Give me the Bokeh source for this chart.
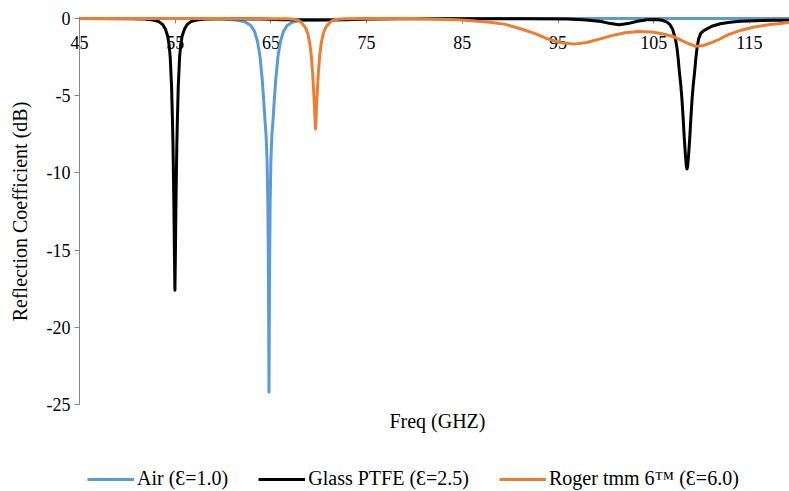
from bokeh.plotting import figure
from bokeh.models import ColumnDataSource, Range1d, FixedTicker, Legend, LegendItem, Label
from bokeh.embed import file_html
from bokeh.resources import INLINE

# ---------------- data ----------------
x_ticks = [45, 55, 65, 75, 85, 95, 105, 115]
y_ticks = [0, -5, -10, -15, -20, -25]
y_tick_labels = ["0", "-5", "-10", "-15", "-20", "-25"]
x_title = "Freq (GHZ)"
y_title = "Reflection Coefficient (dB)"

series_names = ["Air (\u0190=1.0)", "Glass PTFE (\u0190=2.5)", "Roger tmm 6\u2122 (\u0190=6.0)"]
series_colors = ["#5B9BD5", "#000000", "#ED7D31"]

air_freq = [45, 55, 58, 59.8, 61.3, 62.3, 62.9, 63.3, 63.6, 63.85, 64.1, 64.28, 64.36, 64.5,
            64.6, 64.68, 64.74, 64.78, 64.8, 64.82, 64.86, 64.92, 65.0, 65.1, 65.24, 65.32,
            65.5, 65.75, 66.0, 66.3, 66.7, 67.3, 68.3, 70.8, 73.8, 76, 80, 119.2]
air_db = [0, 0, -0.01, -0.03, -0.1, -0.22, -0.45, -0.85, -1.5, -2.4, -4.0, -5.6, -6.4, -7.6,
          -9.2, -12, -16.5, -21.5, -24.2, -21.5, -16.5, -12, -9.2, -7.6, -6.4, -5.6,
          -4.0, -2.4, -1.5, -0.85, -0.45, -0.22, -0.12, -0.08, -0.05, -0.01, 0, 0]

glass_freq = [45, 50.5, 51.8, 52.7, 53.3, 53.7, 53.97, 54.22, 54.37, 54.48, 54.62, 54.71, 54.77,
              54.82, 54.87, 54.92, 54.97, 55.02, 55.07, 55.12, 55.17, 55.23, 55.32, 55.46,
              55.57, 55.72, 55.97, 56.24, 56.64, 57.24, 58.14, 59.5, 61, 64, 66, 70, 73, 75,
              78, 85, 92, 96, 98, 99.5, 100.5, 101.4, 102.3, 103.3, 104.3, 105.2, 105.9,
              106.4, 106.7, 106.98, 107.26, 107.43, 107.56, 107.69, 107.83, 107.96, 108.08,
              108.2, 108.32, 108.42, 108.48, 108.54, 108.64, 108.76, 108.88, 109.0, 109.13,
              109.27, 109.4, 109.53, 109.7, 109.93, 110.23, 110.57, 111.08, 111.96, 112.98,
              114.05, 115.5, 117.5, 119.2]
glass_db = [0, -0.01, -0.04, -0.1, -0.2, -0.4, -0.68, -1.15, -1.75, -2.5, -4.4, -6.5, -8.2,
            -10.2, -12.5, -15.3, -17.6, -15.3, -12.5, -10.2, -8.2, -6.5, -4.4, -2.5,
            -1.75, -1.15, -0.68, -0.4, -0.2, -0.1, -0.04, -0.01, -0.01, -0.04, -0.08, -0.1, -0.08, -0.03,
            -0.01, -0.01, -0.02, -0.04, -0.1, -0.2, -0.33, -0.4, -0.33, -0.18, -0.08, -0.06, -0.12,
            -0.24, -0.4, -0.7, -1.3, -1.9, -2.6, -3.5, -4.3, -5.3, -6.5,
            -7.8, -8.9, -9.6, -9.74, -9.6, -8.9, -7.8, -6.5, -5.3, -4.3,
            -3.5, -2.6, -1.9, -1.3, -0.95, -0.78, -0.67, -0.5, -0.34, -0.24,
            -0.18, -0.14, -0.12, -0.11]

roger_freq = [45, 60, 66.7, 67.4, 67.9, 68.16, 68.44, 68.66, 68.86, 69.06, 69.22, 69.36, 69.46,
              69.56, 69.61, 69.66, 69.71, 69.76, 69.86, 69.96, 70.1, 70.26, 70.46, 70.66, 70.88,
              71.16, 71.42, 71.96, 72.7, 76, 80, 84.5, 86, 87.9, 89.5, 91.4, 92.6, 93.9, 95.2,
              96.7, 98, 99.4, 100.8, 102, 103.4, 104.8, 106, 107.2, 107.8, 108.6, 109.4, 110.2,
              111.1, 111.8, 112.8, 114, 115.5, 117, 119.2]
roger_db = [0, 0, -0.02, -0.05, -0.13, -0.25, -0.45, -0.65, -1.0, -1.6, -2.4, -3.5, -4.6,
            -5.8, -6.6, -7.15, -6.6, -5.8, -4.6, -3.5, -2.4, -1.6, -1.0, -0.65, -0.45,
            -0.25, -0.13, -0.05, -0.02, 0, 0, -0.08, -0.14, -0.24, -0.38, -0.73, -0.98, -1.32, -1.55,
            -1.66, -1.55, -1.32, -1.08, -0.92, -0.84, -0.88, -1.0, -1.2, -1.38, -1.62, -1.8, -1.75,
            -1.55, -1.36, -1.05, -0.78, -0.55, -0.4, -0.26]

FONT = "Liberation Serif"
GRAY = "#868686"

# the frame covers the whole canvas; axes are drawn at x = 45 and y = 0 (Excel style)
p = figure(width=789, height=491, output_backend="svg", toolbar_location=None,
           x_range=Range1d(36.745, 119.19), y_range=Range1d(-30.635, 1.166),
           min_border_left=0, min_border_right=0, min_border_top=0, min_border_bottom=0)
p.outline_line_color = None
p.xgrid.visible = False
p.ygrid.visible = False
p.background_fill_color = "white"

xa = p.xaxis[0]
xa.fixed_location = 0
xa.bounds = (x_ticks[0], 119.19)
xa.ticker = FixedTicker(ticks=x_ticks)
xa.axis_line_color = GRAY
xa.major_tick_line_color = GRAY
xa.minor_tick_line_color = None
xa.major_tick_out = 5
xa.major_tick_in = 0
xa.major_label_standoff = 12
xa.major_label_text_font = FONT
xa.major_label_text_font_size = "18px"
xa.major_label_text_color = "black"
xa.level = "underlay"

ya = p.yaxis[0]
ya.fixed_location = x_ticks[0]
ya.bounds = (y_ticks[-1], y_ticks[0])
ya.ticker = FixedTicker(ticks=y_ticks)
ya.major_label_overrides = {t: s for t, s in zip(y_ticks, y_tick_labels)}
ya.axis_line_color = GRAY
ya.major_tick_line_color = GRAY
ya.minor_tick_line_color = None
ya.major_tick_out = 5
ya.major_tick_in = 0
ya.major_label_standoff = 4
ya.major_label_text_font = FONT
ya.major_label_text_font_size = "18px"
ya.major_label_text_color = "black"
ya.axis_label = y_title
ya.axis_label_text_font = FONT
ya.axis_label_text_font_size = "20px"
ya.axis_label_text_font_style = "normal"
ya.axis_label_text_color = "black"
ya.axis_label_standoff = 13

renderers = []
for fr, db, col in zip([air_freq, glass_freq, roger_freq], [air_db, glass_db, roger_db], series_colors):
    src = ColumnDataSource(dict(x=fr, y=db))
    r = p.line("x", "y", source=src, line_color=col, line_width=3, line_join="round")
    renderers.append(r)

p.add_layout(Label(x=82.4, y=-26.1, text=x_title, text_align="center", text_baseline="middle",
                   text_font=FONT, text_font_size="20px", text_color="black"))

legend = Legend(items=[LegendItem(label=n, renderers=[r]) for n, r in zip(series_names, renderers)],
                location=(87, 1), orientation="horizontal", border_line_color=None,
                background_fill_alpha=0, padding=0, margin=0, spacing=30,
                glyph_width=47, glyph_height=20, label_standoff=3,
                label_text_font=FONT, label_text_font_size="20px", label_text_color="black")
p.add_layout(legend)

open("out.html", "w").write(file_html(p, INLINE))
